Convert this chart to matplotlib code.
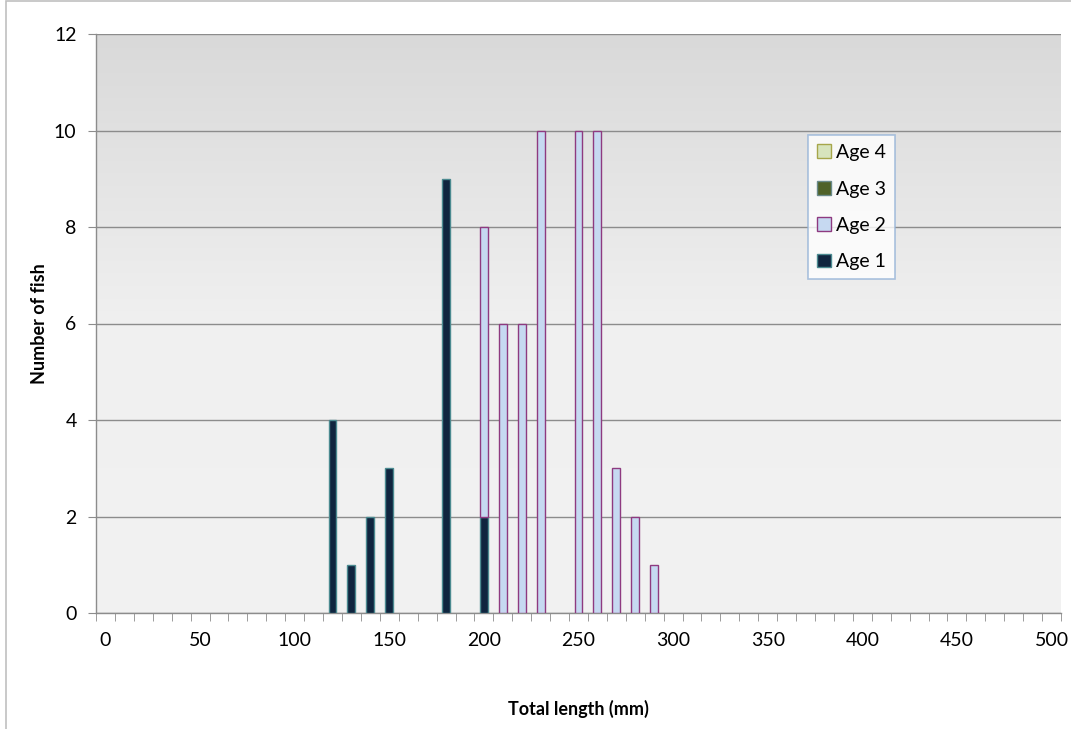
import numpy as np
import matplotlib
matplotlib.use("Agg")
import matplotlib.pyplot as plt
from matplotlib.patches import Rectangle
from matplotlib.colors import LinearSegmentedColormap

plt.rcParams['font.family'] = ['Lato', 'DejaVu Sans']

# categories on the x axis (total length, mm)
lengths = list(range(0, 510, 10))

# counts per length class, by age
age1_lengths = [120, 130, 140, 150, 180, 200]
age1_counts = [4, 1, 2, 3, 9, 2]
age2_lengths = [200, 210, 220, 230, 250, 260, 270, 280, 290]
age2_counts = [6, 6, 6, 10, 10, 10, 3, 2, 1]
age3_lengths = []
age3_counts = []
age4_lengths = []
age4_counts = []

series_names = ['Age 1', 'Age 2', 'Age 3', 'Age 4']
fill_colors = ['#10253f', '#c6d9f1', '#4f6228', '#d7e4bd']
edge_colors = ['#4b8a90', '#8e3a80', '#6a8a8a', '#a6a64a']


def to_full(lens, counts):
    out = np.zeros(len(lengths))
    for l, c in zip(lens, counts):
        out[lengths.index(l)] = c
    return out


series = [to_full(age1_lengths, age1_counts), to_full(age2_lengths, age2_counts),
          to_full(age3_lengths, age3_counts), to_full(age4_lengths, age4_counts)]

fig = plt.figure(figsize=(10.71, 7.29), dpi=100)
fig.patches.append(Rectangle((6 / 1071, -0.01), 1.1, 1 - 1 / 729 + 0.01, transform=fig.transFigure,
                             fill=False, edgecolor='#c0c0c0', linewidth=1.2))
ax = fig.add_axes([96 / 1071, 1 - 613 / 729, 965 / 1071, 579 / 729])

n = len(lengths)
x = np.arange(n)

# gradient background
cmap = LinearSegmentedColormap.from_list('bg', ['#f2f2f2', '#f0f0f0', '#d9d9d9'])
grad = np.linspace(0, 1, 256).reshape(-1, 1)
ax.imshow(grad, aspect='auto', cmap=cmap, origin='lower',
          extent=[-0.5, n - 0.5, 0, 12], zorder=0)

bottom = np.zeros(n)
handles = []
for vals, name, fc, ec in zip(series, series_names, fill_colors, edge_colors):
    nz = vals > 0
    ax.bar(x[nz], vals[nz], width=0.42, bottom=bottom[nz], color=fc, edgecolor=ec,
           linewidth=1.0, label=name, zorder=3)
    handles.append(Rectangle((0, 0), 1, 1, facecolor=fc, edgecolor=ec, linewidth=1.0))
    bottom = bottom + vals

ax.set_xlim(-0.5, n - 0.5)
ax.set_ylim(0, 12)
ax.set_yticks(range(0, 13, 2))
ax.yaxis.grid(True, color='#8c8c8c', linewidth=1.0, zorder=1)
ax.set_axisbelow(True)

label_idx = list(range(0, n, 5))
ax.set_xticks(label_idx)
ax.set_xticklabels([str(lengths[i]) for i in label_idx])
ax.set_xticks(np.arange(-0.5, n, 1), minor=True)
ax.tick_params(axis='x', which='major', length=0, pad=14, labelsize=14)
ax.tick_params(axis='x', which='minor', length=6, color='#8c8c8c', direction='out')
ax.tick_params(axis='y', length=6, color='#8c8c8c', labelsize=14, pad=8)

for s in ['top', 'right']:
    ax.spines[s].set_visible(False)
for s in ['left', 'bottom']:
    ax.spines[s].set_color('#8c8c8c')
    ax.spines[s].set_linewidth(1.0)

ax.set_xlabel('Total length (mm)', fontsize=13, fontweight='bold', labelpad=36)
ax.set_ylabel('Number of fish', fontsize=13, fontweight='bold', labelpad=4)

leg = ax.legend(handles[::-1], series_names[::-1], loc='upper left',
                bbox_to_anchor=(0.738, 0.825), fontsize=14, frameon=True,
                fancybox=False, handlelength=0.7, handleheight=0.7,
                handletextpad=0.3, labelspacing=1.0, borderpad=0.45,
                borderaxespad=0)
leg.get_frame().set_edgecolor('#95b3d7')
leg.get_frame().set_facecolor('white')
leg.get_frame().set_linewidth(1.2)
leg.set_zorder(5)

fig.savefig('out.png', dpi=100)
